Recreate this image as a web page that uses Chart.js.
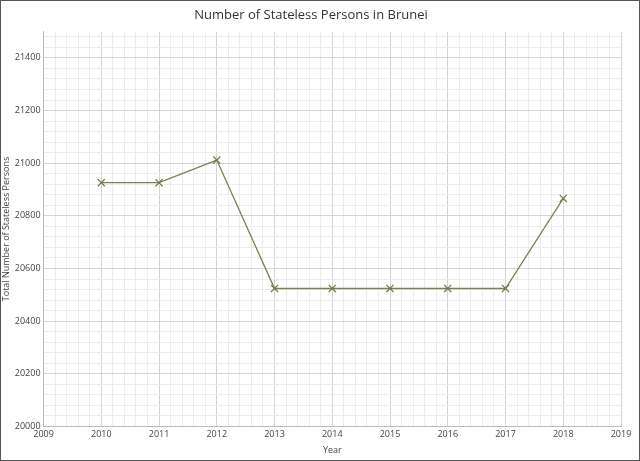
<!DOCTYPE html>
<html>
<head>
<script src="https://cdn.jsdelivr.net/npm/chart.js@4"></script>
<style>
  html, body { margin: 0; padding: 0; background: #fff; }
  #wrap { width: 638px; height: 459px; border: 1px solid #555; }
</style>
</head>
<body>
<div id="wrap"><canvas id="c" width="638" height="459"></canvas></div>
<script>
const years = [2010, 2011, 2012, 2013, 2014, 2015, 2016, 2017, 2018];
const persons = [20926, 20926, 21012, 20524, 20524, 20524, 20524, 20524, 20866];

const isMajor = (v, step) => Math.abs(v / step - Math.round(v / step)) < 1e-6;
const font = { family: 'Open Sans', size: 9 };

new Chart(document.getElementById('c'), {
    type: 'scatter',
    data: {
        datasets: [{
            data: years.map((y, i) => ({ x: y, y: persons[i] })),
            showLine: true,
            borderColor: '#76844f',
            borderWidth: 1.3,
            pointStyle: 'crossRot',
            pointRadius: 5,
            pointBorderColor: '#6b7a45',
            pointBorderWidth: 1.2
        }]
    },
    options: {
        responsive: false,
        animation: false,
        layout: { padding: { right: 18, top: 2, left: 0 } },
        plugins: {
            legend: { display: false },
            tooltip: { enabled: false },
            title: {
                display: true,
                text: 'Number of Stateless Persons in Brunei',
                color: '#333',
                font: { family: 'Open Sans', size: 13, weight: 'normal' },
                padding: { top: 4, bottom: 9 }
            }
        },
        scales: {
            x: {
                type: 'linear', min: 2009, max: 2019,
                ticks: {
                    stepSize: 0.2, autoSkip: false, maxRotation: 0, color: '#444', font,
                    callback: v => isMajor(v, 1) ? String(Math.round(v)) : ''
                },
                grid: {
                    color: ctx => isMajor(ctx.tick.value, 1) ? '#d4d4d4' : '#ececec',
                    drawTicks: false
                },
                border: { color: '#bbb' },
                title: { display: true, text: 'Year', color: '#444', font: { family: 'Open Sans', size: 9 }, padding: { top: 2 } }
            },
            y: {
                min: 20000, max: 21500,
                ticks: {
                    stepSize: 40, autoSkip: false, color: '#444', font, padding: 3,
                    callback: v => isMajor(v, 200) ? String(v) : ''
                },
                afterBuildTicks: axis => {
                    const t = [];
                    for (let v = 20000; v <= 21480; v += 40) t.push({ value: v });
                    axis.ticks = t;
                },
                grid: {
                    color: ctx => isMajor(ctx.tick.value, 200) ? '#d4d4d4' : '#ececec',
                    drawTicks: false
                },
                border: { color: '#bbb' },
                title: { display: true, text: 'Total Number of Stateless Persons', color: '#444', font: { family: 'Open Sans', size: 9 }, padding: 0 }
            }
        }
    }
});
</script>
</body>
</html>
